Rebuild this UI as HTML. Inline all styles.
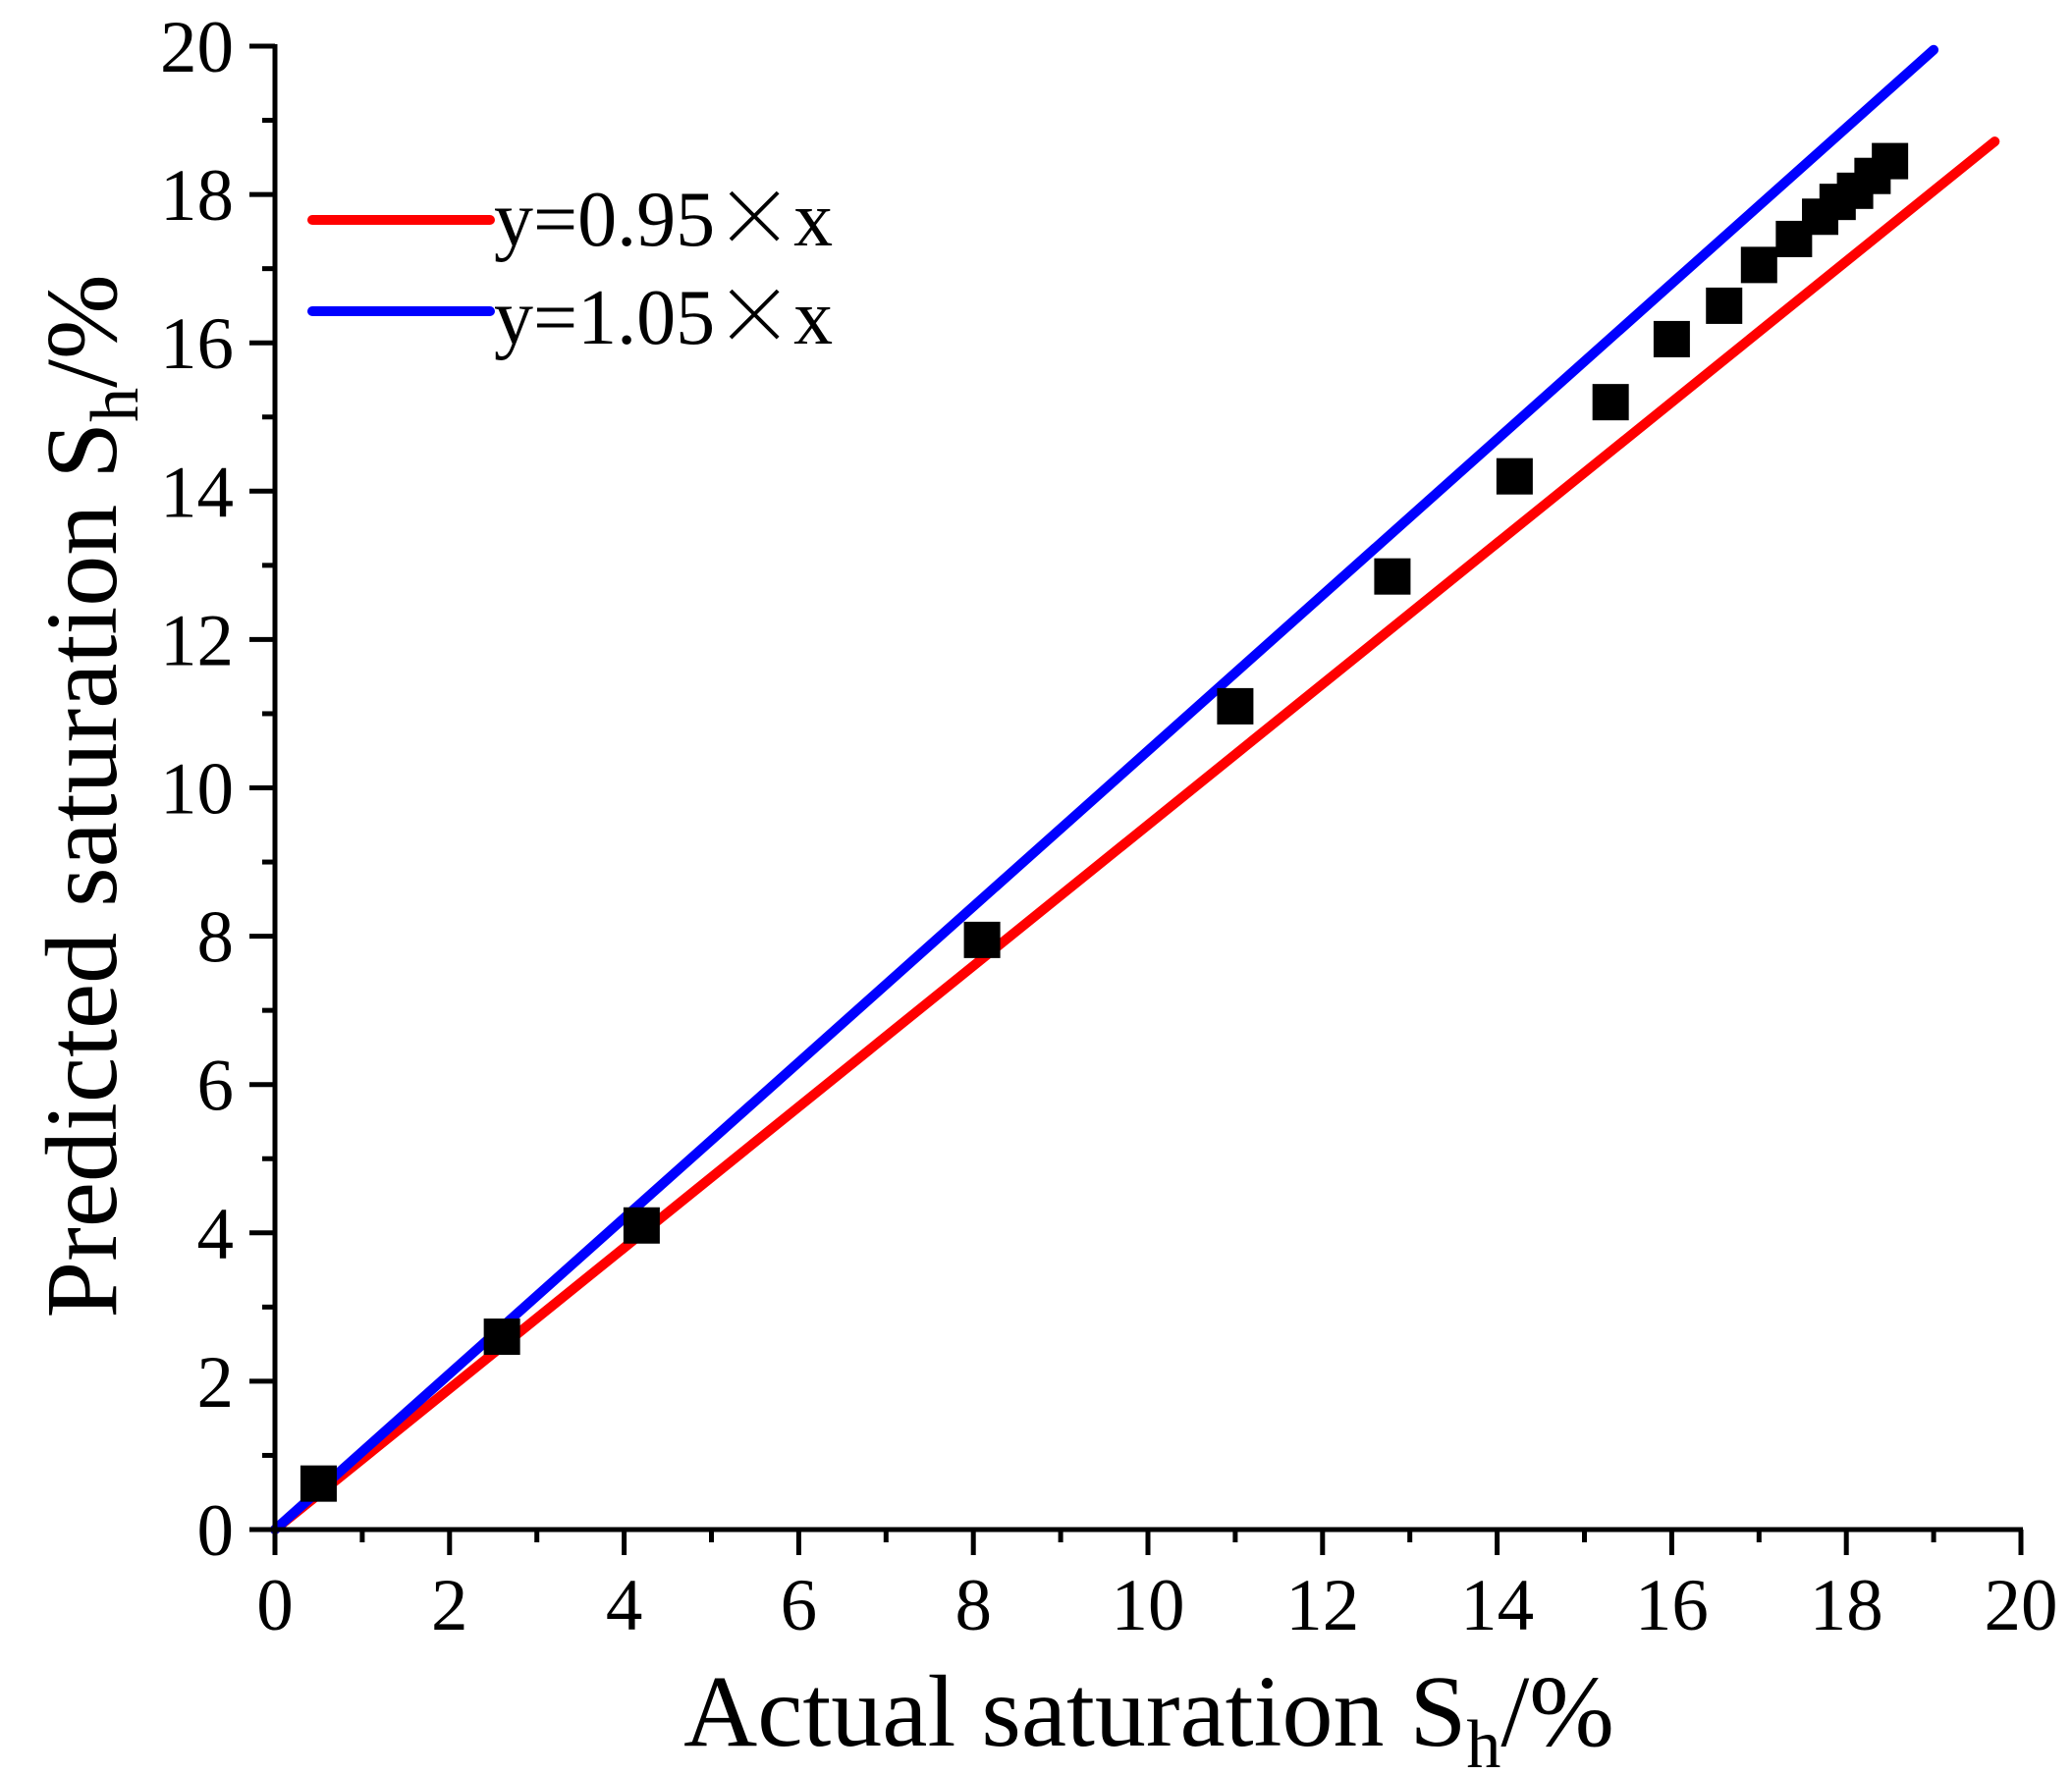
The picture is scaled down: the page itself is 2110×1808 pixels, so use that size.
<!DOCTYPE html>
<html><head><meta charset="utf-8"><style>
html,body{margin:0;padding:0;background:#fff;}
svg{display:block;}
</style></head><body>
<svg id="chart" width="2110" height="1808" viewBox="0 0 2110 1808">
<g id="plot"></g>
<g id="axes"></g>
<text x="1170" y="1778" font-family="Liberation Serif, serif" font-size="104" text-anchor="middle">Actual saturation S<tspan font-size="70" dy="22">h</tspan><tspan dy="-22">/%</tspan></text>
<text transform="translate(118,811) rotate(-90)" font-family="Liberation Serif, serif" font-size="104" text-anchor="middle">Predicted saturation S<tspan font-size="70" dy="22">h</tspan><tspan dy="-22">/%</tspan></text>
<g>
<g>
<line x1="318" y1="224" x2="499" y2="224" stroke="#ff0000" stroke-width="10" stroke-linecap="round"/>
<text x="503" y="250" font-family="Liberation Serif, serif" font-size="80">y=0.95<tspan font-family="Noto Sans CJK SC, sans-serif" font-weight="300">×</tspan>x</text>
</g>
<g>
<line x1="318" y1="317" x2="499" y2="317" stroke="#0000ff" stroke-width="10" stroke-linecap="round"/>
<text x="503" y="350" font-family="Liberation Serif, serif" font-size="80">y=1.05<tspan font-family="Noto Sans CJK SC, sans-serif" font-weight="300">×</tspan>x</text>
</g>
</g>
</svg>
<script>
const actual = [0.5,2.6,4.2,8.1,11.0,12.8,14.2,15.3,16.0,16.6,17.0,17.4,17.7,17.9,18.1,18.3,18.5];
const predicted = [0.62,2.6,4.1,7.95,11.1,12.85,14.2,15.2,16.05,16.5,17.05,17.4,17.7,17.9,18.05,18.25,18.45];
const xTicks = [0,2,4,6,8,10,12,14,16,18,20];
const yTicks = [0,2,4,6,8,10,12,14,16,18,20];
const redSlope = 0.95, redXEnd = 19.7;
const blueSlope = 1.05, blueXEnd = 19.0;

const NS="http://www.w3.org/2000/svg";
const X0=280,X1=2058,Y0=1558,Y1=47;
const sx=v=>X0+(v-0)/20*(X1-X0);
const sy=v=>Y0-(v-0)/20*(Y0-Y1);
const plot=document.getElementById('plot'), axes=document.getElementById('axes');
function mk(tag,attrs,parent){const e=document.createElementNS(NS,tag);for(const k in attrs)e.setAttribute(k,attrs[k]);parent.appendChild(e);return e;}

let l=mk('line',{x1:sx(0),y1:sy(0),x2:sx(redXEnd),y2:sy(redSlope*redXEnd),stroke:'#ff0000','stroke-width':10,'stroke-linecap':'round'},plot);


l=mk('line',{x1:sx(0),y1:sy(0),x2:sx(blueXEnd),y2:sy(blueSlope*blueXEnd),stroke:'#0000ff','stroke-width':10,'stroke-linecap':'round'},plot);



actual.forEach((a,i)=>{
  const r=mk('rect',{x:sx(a)-18.5,y:sy(predicted[i])-18.5,width:37,height:37,fill:'#000'},plot);
  
  
});

let ax=mk('line',{x1:X0-2,y1:Y0,x2:X1+2,y2:Y0,stroke:'#000','stroke-width':5},axes);


ax=mk('line',{x1:X0,y1:Y0+2,x2:X0,y2:Y1-2,stroke:'#000','stroke-width':5},axes);



xTicks.forEach((t,i)=>{
  const x=sx(t);
  const tk=mk('line',{x1:x,y1:Y0,x2:x,y2:Y0+26,stroke:'#000','stroke-width':5},axes);
  
  
  if(i<xTicks.length-1){
    const m=mk('line',{x1:sx(t+1),y1:Y0,x2:sx(t+1),y2:Y0+13,stroke:'#000','stroke-width':5},axes);
    
    
  }
  const tx=mk('text',{x:x,y:1660,'font-size':75,'text-anchor':'middle','font-family':'Liberation Serif, serif'},axes);
  tx.textContent=t;
  
  
});
yTicks.forEach((t,i)=>{
  const y=sy(t);
  const tk=mk('line',{x1:X0,y1:y,x2:X0-26,y2:y,stroke:'#000','stroke-width':5},axes);
  
  
  if(i<yTicks.length-1){
    const m=mk('line',{x1:X0,y1:sy(t+1),x2:X0-13,y2:sy(t+1),stroke:'#000','stroke-width':5},axes);
    
    
  }
  const tx=mk('text',{x:238,y:y+26,'font-size':75,'text-anchor':'end','font-family':'Liberation Serif, serif'},axes);
  tx.textContent=t;
  
  
});
</script>
</body></html>
